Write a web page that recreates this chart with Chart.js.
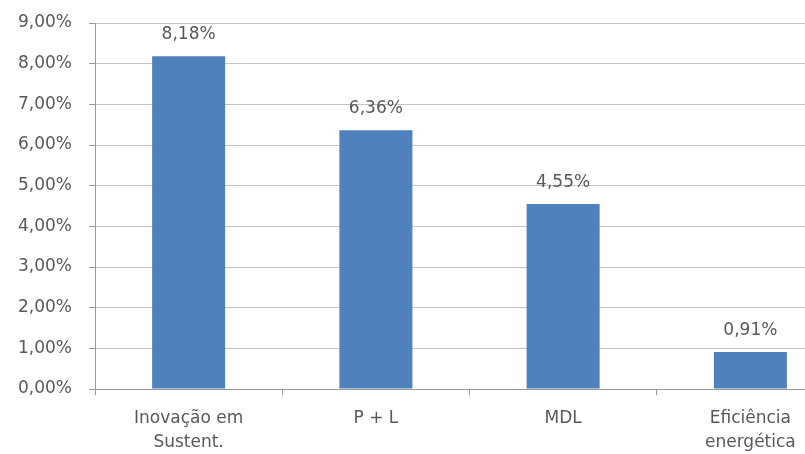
<!DOCTYPE html>
<html>
<head>
    <meta charset="utf-8">
    <title>Percentuais por tema</title>
    <script src="https://cdn.jsdelivr.net/npm/chart.js"></script>
    <style>
        body, html {
            margin: 0;
            padding: 0;
            background: #fff;
            overflow: hidden;
        }
        canvas { display: block; }
    </style>
</head>
<body>
<canvas id="barChart" width="850" height="454"></canvas>

<script>
    const categories = [['Inovação em', 'Sustent.'], 'P + L', 'MDL', ['Eficiência', 'energética']];
    const values = [8.18, 6.36, 4.55, 0.91];
    const yTicks = [0, 1, 2, 3, 4, 5, 6, 7, 8, 9];

    const FONT = '"DejaVu Sans", Verdana, sans-serif';
    const fmt = v => v.toFixed(2).replace('.', ',') + '%';

    // value labels above each bar
    const barLabels = {
        id: 'barLabels',
        afterDatasetsDraw(chart) {
            const ctx = chart.ctx;
            const meta = chart.getDatasetMeta(0);
            ctx.save();
            ctx.font = '17px ' + FONT;
            ctx.fillStyle = '#595959';
            ctx.textAlign = 'center';
            ctx.textBaseline = 'alphabetic';
            meta.data.forEach((bar, i) => {
                ctx.fillText(fmt(values[i]), bar.x, bar.y - 17);
            });
            ctx.restore();
        }
    };

    new Chart(document.getElementById('barChart').getContext('2d'), {
        type: 'bar',
        data: {
            labels: categories,
            datasets: [{
                data: values,
                backgroundColor: '#4F81BD',
                categoryPercentage: 1,
                barPercentage: 0.39
            }]
        },
        options: {
            responsive: false,
            animation: false,
            layout: { padding: { top: 23, right: 6, left: 0, bottom: 0 } },
            plugins: {
                legend: { display: false },
                tooltip: { enabled: false }
            },
            scales: {
                x: {
                    afterFit(scale) { scale.height = 65; },
                    grid: {
                        drawOnChartArea: false,
                        drawTicks: true,
                        tickLength: 6,
                        color: '#9a9a9a'
                    },
                    border: { color: '#9a9a9a' },
                    ticks: {
                        color: '#595959',
                        font: { family: FONT, size: 17, lineHeight: 1.4 },
                        padding: 12,
                        maxRotation: 0
                    }
                },
                y: {
                    min: 0,
                    max: 9,
                    afterFit(scale) {
                        scale.width = 95;
                        scale.paddingTop = 0;
                        scale.paddingBottom = 0;
                    },
                    afterBuildTicks(scale) {
                        scale.ticks = yTicks.map(v => ({ value: v }));
                    },
                    grid: {
                        color: '#c4c4c4',
                        tickLength: 6,
                        tickColor: '#9a9a9a'
                    },
                    border: { color: '#9a9a9a' },
                    ticks: {
                        color: '#595959',
                        font: { family: FONT, size: 17 },
                        padding: 17,
                        callback: v => fmt(v)
                    }
                }
            }
        },
        plugins: [barLabels]
    });
</script>
</body>
</html>
